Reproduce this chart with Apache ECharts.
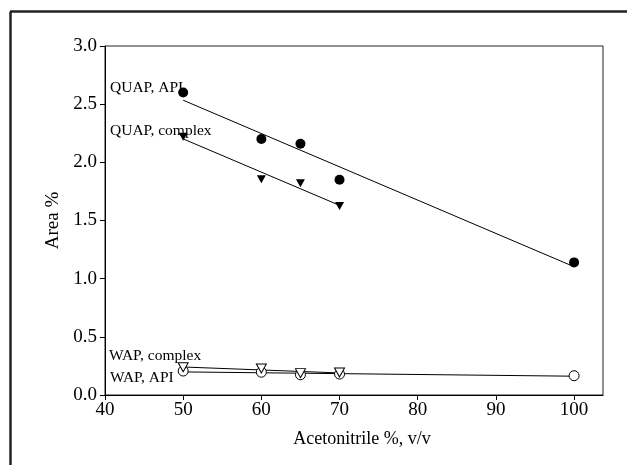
<!DOCTYPE html>
<html>
<head>
<meta charset="utf-8">
<script src="https://cdn.jsdelivr.net/npm/echarts@6/dist/echarts.min.js"></script>
<style>html,body{margin:0;padding:0;background:#fff}#c{width:627px;height:465px}</style>
</head>
<body>
<div id="c"></div>
<script>
// Acetonitrile % (v/v)
const xQuapApi = [50, 60, 65, 70, 100];
const yQuapApi = [2.60, 2.20, 2.16, 1.85, 1.14];
const xQuapComplex = [50, 60, 65, 70];
const yQuapComplex = [2.22, 1.855, 1.82, 1.625];
const xWapComplex = [50, 60, 65, 70];
const yWapComplex = [0.238, 0.228, 0.188, 0.194];
const xWapApi = [50, 60, 65, 70, 100];
const yWapApi = [0.206, 0.196, 0.174, 0.18, 0.166];
const xTicks = [40, 50, 60, 70, 80, 90, 100];
const yTicks = [0.0, 0.5, 1.0, 1.5, 2.0, 2.5, 3.0];
const seriesNames = ['QUAP, API', 'QUAP, complex', 'WAP, complex', 'WAP, API'];
const xTitle = 'Acetonitrile %, v/v';
const yTitle = 'Area %';

function pairs(xs, ys) { return xs.map((x, i) => [x, ys[i]]); }
function fit(xs, ys) {
  const n = xs.length;
  const mx = xs.reduce((a, b) => a + b, 0) / n;
  const my = ys.reduce((a, b) => a + b, 0) / n;
  let sxy = 0, sxx = 0;
  for (let i = 0; i < n; i++) { sxy += (xs[i] - mx) * (ys[i] - my); sxx += (xs[i] - mx) ** 2; }
  const b = sxy / sxx, a = my - b * mx;
  const x0 = Math.min(...xs), x1 = Math.max(...xs);
  return [[x0, a + b * x0], [x1, a + b * x1]];
}

const FONT = 'Liberation Serif';
const chart = echarts.init(document.getElementById('c'), null, { renderer: 'canvas' });

function lineSeries(data) {
  return { type: 'line', data: data, symbol: 'none', silent: true, z: 2,
    lineStyle: { color: '#000', width: 1 } };
}
function markerSeries(data, symbol, filled, size, rotate) {
  return { type: 'scatter', data: data, symbol: symbol, symbolSize: size, symbolRotate: rotate || 0, z: 5,
    itemStyle: { color: filled ? '#000' : '#fff', borderColor: '#000', borderWidth: filled ? 0 : 1, opacity: 1 } };
}

chart.setOption({
  animation: false,
  backgroundColor: '#fff',
  grid: { left: 105, right: 24, top: 46, bottom: 70, show: true, borderColor: '#222', borderWidth: 1, backgroundColor: 'transparent' },
  xAxis: {
    type: 'value', min: 40, max: 103.7, interval: 10,
    name: xTitle, nameLocation: 'middle', nameGap: 35,
    nameTextStyle: { fontFamily: FONT, fontSize: 18, color: '#000', padding: [0, 0, 0, 16] },
    axisLine: { show: true, lineStyle: { color: '#000', width: 1 } },
    axisTick: { show: true, inside: false, length: 5, lineStyle: { color: '#000' } },
    axisLabel: { fontFamily: FONT, fontSize: 19, color: '#000', margin: 6, showMaxLabel: false,
      formatter: v => xTicks.includes(v) ? String(v) : '' },
    splitLine: { show: false }
  },
  yAxis: {
    type: 'value', min: 0, max: 3, interval: 0.5,
    name: yTitle, nameLocation: 'middle', nameGap: 39, nameRotate: 90,
    nameTextStyle: { fontFamily: FONT, fontSize: 19, color: '#000' },
    axisLine: { show: true, lineStyle: { color: '#000', width: 1 } },
    axisTick: { show: true, inside: false, length: 5, lineStyle: { color: '#000' } },
    axisLabel: { fontFamily: FONT, fontSize: 19, color: '#000', margin: 8,
      formatter: v => yTicks.some(t => Math.abs(t - v) < 1e-9) ? v.toFixed(1) : '' },
    splitLine: { show: false }
  },
  series: [
    lineSeries(fit(xQuapApi, yQuapApi)),
    lineSeries(fit(xQuapComplex, yQuapComplex)),
    lineSeries(fit(xWapApi, yWapApi)),
    lineSeries(fit(xWapComplex, yWapComplex)),
    markerSeries(pairs(xWapApi, yWapApi), 'circle', false, 10),
    markerSeries(pairs(xWapComplex, yWapComplex), 'triangle', false, [10, 9], 180),
    markerSeries(pairs(xQuapApi, yQuapApi), 'circle', true, 10),
    markerSeries(pairs(xQuapComplex, yQuapComplex), 'triangle', true, [9, 8], 180)
  ],
  graphic: [
    { type: 'line', shape: { x1: 10, y1: 11.5, x2: 627, y2: 11.5 }, style: { stroke: '#222', lineWidth: 2.5 }, silent: true },
    { type: 'line', shape: { x1: 10.5, y1: 11.5, x2: 10.5, y2: 465 }, style: { stroke: '#222', lineWidth: 2.5 }, silent: true },
    { type: 'text', x: 110, y: 80, style: { text: seriesNames[0], font: '15.5px "' + FONT + '"', fill: '#000', textBaseline: 'alphabetic' }, silent: true },
    { type: 'text', x: 110, y: 122.5, style: { text: seriesNames[1], font: '15.5px "' + FONT + '"', fill: '#000', textBaseline: 'alphabetic' }, silent: true },
    { type: 'text', x: 109, y: 347.5, style: { text: seriesNames[2], font: '15.5px "' + FONT + '"', fill: '#000', textBaseline: 'alphabetic' }, silent: true },
    { type: 'text', x: 110, y: 369.5, style: { text: seriesNames[3], font: '15.5px "' + FONT + '"', fill: '#000', textBaseline: 'alphabetic' }, silent: true }
  ]
});
</script>
</body>
</html>
